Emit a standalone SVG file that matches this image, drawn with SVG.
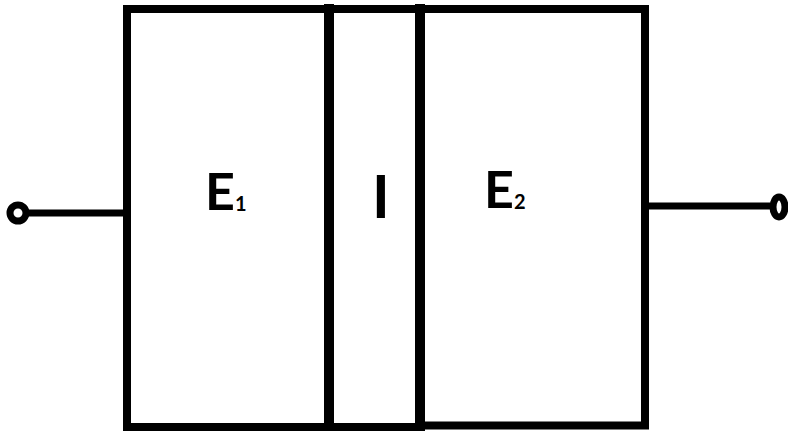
<svg xmlns="http://www.w3.org/2000/svg" width="788" height="431" viewBox="0 0 788 431">
<style>
.w{fill:none;stroke:#000;stroke-width:8;stroke-linecap:square}
.t{font-family:Lato,"Liberation Sans",sans-serif;font-weight:bold;fill:#000}
.lead{fill:none;stroke:#000;stroke-width:7}
</style>
<rect width="788" height="431" fill="#fff"/>
<g id="E1">
<path class="w" d="M127 9H329M127 9V427H329"/>
<text class="t" x="205" y="210" font-size="52">E<tspan font-size="20" dy="1">1</tspan></text>
</g>
<g id="I">
<path class="w" d="M329 9V427" style="stroke-width:10"/>
<path class="w" d="M329 9H420M329 427H420"/>
<text class="t" x="372" y="218" font-size="60">I</text>
</g>
<g id="E2">
<path class="w" d="M420 9V427" style="stroke-width:10"/>
<path class="w" d="M420 9H645V425.5H420"/>
<text class="t" x="484" y="208" font-size="52">E<tspan font-size="20" dy="1">2</tspan></text>
</g>
<g id="connectors">
<path class="lead" d="M28 213H124"/>
<circle class="lead" cx="18" cy="213" r="8"/>
<path class="lead" d="M648 206H770"/>
<ellipse class="lead" cx="779" cy="207" rx="6" ry="10"/>
</g>
</svg>
